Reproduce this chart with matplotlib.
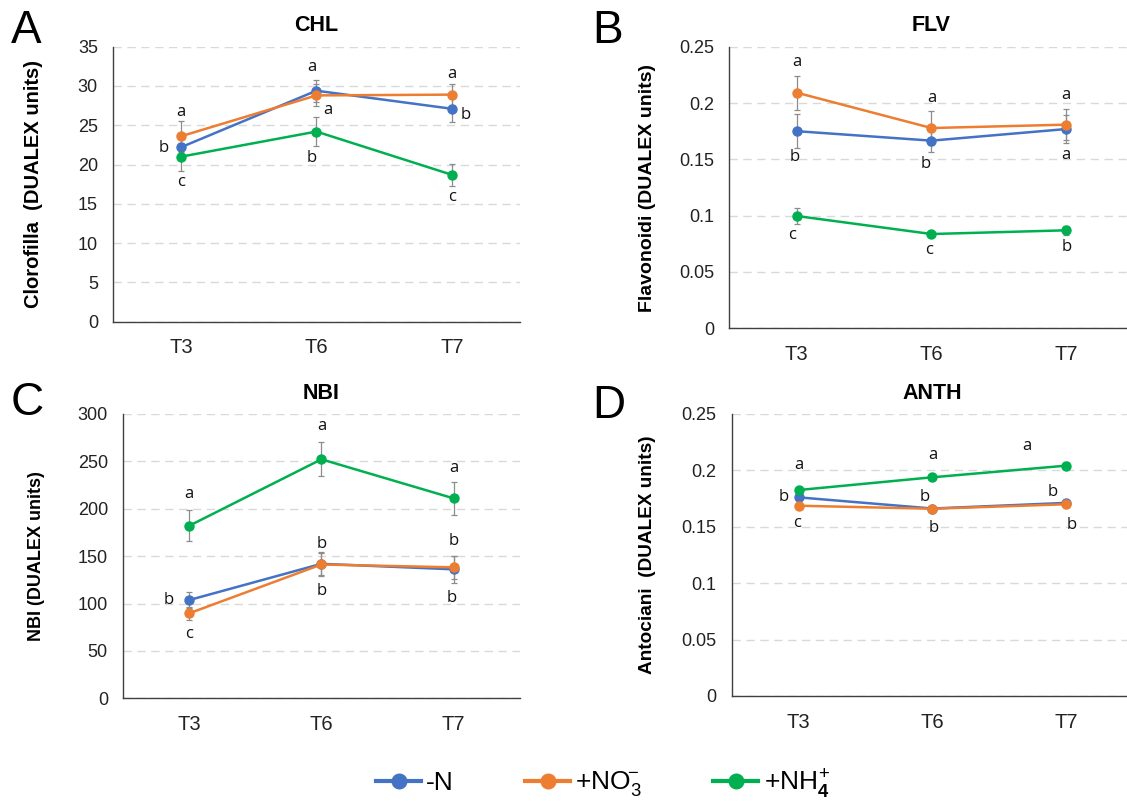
import matplotlib
matplotlib.use("Agg")
import matplotlib.pyplot as plt
from matplotlib.lines import Line2D

plt.rcParams['font.family'] = ['Liberation Sans', 'DejaVu Sans']
plt.rcParams['mathtext.fontset'] = 'custom'
plt.rcParams['mathtext.rm'] = 'Liberation Sans'
plt.rcParams['mathtext.bf'] = 'Liberation Sans:bold'

# ---------------- data ----------------
times = ["T3", "T6", "T7"]
series_names = ["-N", r"+NO$_3^{\!\!-}$", r"+NH$_\mathbf{4}^{\!+}$"]
colors = ["#4472C4", "#ED7D31", "#00B050"]

# CHL
chl_N = [22.2, 29.4, 27.1]
chl_NO3 = [23.6, 28.8, 28.9]
chl_NH4 = [21.0, 24.2, 18.7]
chl_N_err = [1.0, 1.4, 1.65]
chl_NO3_err = [1.95, 1.4, 1.35]
chl_NH4_err = [1.8, 1.8, 1.4]
chl_lab = ["a", "b", "c", "a", "a", "b", "a", "b", "c"]
chl_lab_t = [0, 0, 0, 1, 1, 1, 2, 2, 2]
chl_lab_y = [26.7, 22.1, 17.8, 32.4, 27.0, 20.8, 31.5, 26.3, 15.9]
chl_lab_dx = [0, -17, 0, -5, 11, -5, 0, 14, 0]

# FLV
flv_N = [0.175, 0.1666, 0.1769]
flv_NO3 = [0.2092, 0.1778, 0.1808]
flv_NH4 = [0.0997, 0.0837, 0.0870]
flv_N_err = [0.0153, 0.0098, 0.0127]
flv_NO3_err = [0.015, 0.0154, 0.0136]
flv_NH4_err = [0.0068, 0.002, 0.004]
flv_lab = ["a", "b", "c", "a", "b", "c", "a", "a", "b"]
flv_lab_t = [0, 0, 0, 1, 1, 1, 2, 2, 2]
flv_lab_y = [0.2367, 0.1524, 0.0828, 0.2042, 0.1459, 0.0695, 0.2071, 0.1539, 0.0725]
flv_lab_dx = [0, -2, -5, 0, -6, -2, 0, 0, 0]

# NBI
nbi_N = [103.7, 141.9, 136.1]
nbi_NO3 = [89.7, 141.2, 138.2]
nbi_NH4 = [182.1, 252.2, 211.0]
nbi_N_err = [8.8, 12.0, 14.0]
nbi_NO3_err = [7.0, 12.0, 12.0]
nbi_NH4_err = [16.6, 18.0, 17.5]
nbi_lab = ["a", "b", "c", "a", "b", "b", "a", "b", "b"]
nbi_lab_t = [0, 0, 0, 1, 1, 1, 2, 2, 2]
nbi_lab_y = [215.6, 103.7, 67.8, 287.3, 162.8, 113.5, 243.3, 166.3, 105.5]
nbi_lab_dx = [0, -21, 0, 0, 0, 0, 0, 0, -2]

# ANTH
anth_N = [0.1761, 0.1662, 0.1712]
anth_NO3 = [0.1687, 0.1660, 0.1700]
anth_NH4 = [0.1826, 0.1939, 0.2042]
anth_N_err = [0.002, 0.0015, 0.002]
anth_NO3_err = [0.002, 0.0015, 0.002]
anth_NH4_err = [0.002, 0.002, 0.003]
anth_lab = ["a", "b", "c", "a", "b", "b", "a", "b", "b"]
anth_lab_t = [0, 0, 0, 1, 1, 1, 2, 2, 2]
anth_lab_y = [0.2048, 0.1761, 0.1531, 0.2137, 0.1761, 0.1487, 0.2216, 0.1806, 0.1516]
anth_lab_dx = [0, -15, -2, 0, -8, 1, -39, -13, 6]

panels = [
    dict(letter="A", title="CHL", ylabel="Clorofilla  (DUALEX units)", ylab_fs=14.5,
         vals=[chl_N, chl_NO3, chl_NH4], errs=[chl_N_err, chl_NO3_err, chl_NH4_err],
         ylim=(0, 35), yticks=[0, 5, 10, 15, 20, 25, 30, 35],
         lab=chl_lab, lab_t=chl_lab_t, lab_y=chl_lab_y, lab_dx=chl_lab_dx,
         pos_px=(113.2, 46.7, 519.6, 321.7), ylab_x=43, letter_xy=(11, 9)),
    dict(letter="B", title="FLV", ylabel="Flavonoidi (DUALEX units)", ylab_fs=14,
         vals=[flv_N, flv_NO3, flv_NH4], errs=[flv_N_err, flv_NO3_err, flv_NH4_err],
         ylim=(0, 0.25), yticks=[0, 0.05, 0.1, 0.15, 0.2, 0.25],
         lab=flv_lab, lab_t=flv_lab_t, lab_y=flv_lab_y, lab_dx=flv_lab_dx,
         pos_px=(729.3, 46.7, 1133.6, 328.3), ylab_x=656, letter_xy=(592, 9)),
    dict(letter="C", title="NBI", ylabel="NBI (DUALEX units)", ylab_fs=13,
         vals=[nbi_N, nbi_NO3, nbi_NH4], errs=[nbi_N_err, nbi_NO3_err, nbi_NH4_err],
         ylim=(0, 300), yticks=[0, 50, 100, 150, 200, 250, 300],
         lab=nbi_lab, lab_t=nbi_lab_t, lab_y=nbi_lab_y, lab_dx=nbi_lab_dx,
         pos_px=(123.2, 414, 519.6, 698.3), ylab_x=45, letter_xy=(11, 381)),
    dict(letter="D", title="ANTH", ylabel="Antociani  (DUALEX units)", ylab_fs=13.7,
         vals=[anth_N, anth_NO3, anth_NH4], errs=[anth_N_err, anth_NO3_err, anth_NH4_err],
         ylim=(0, 0.25), yticks=[0, 0.05, 0.1, 0.15, 0.2, 0.25],
         lab=anth_lab, lab_t=anth_lab_t, lab_y=anth_lab_y, lab_dx=anth_lab_dx,
         pos_px=(731.8, 414, 1133, 696), ylab_x=656, letter_xy=(592, 384)),
]

W, H = 1127, 808
fig = plt.figure(figsize=(W / 100, H / 100), dpi=100)

x = list(range(len(times)))
for p in panels:
    l, t, r, b = p["pos_px"]
    ax = fig.add_axes([l / W, 1 - b / H, (r - l) / W, (b - t) / H])
    for vals, errs, c in zip(p["vals"], p["errs"], colors):
        ax.errorbar(x, vals, yerr=errs, color=c, lw=1.8, marker="o", ms=6.5,
                    ecolor="#8C8C8C", elinewidth=0.9, capsize=2, capthick=0.9,
                    zorder=3)
    ax.set_xlim(-0.5, 2.5)
    ax.set_ylim(*p["ylim"])
    ax.set_yticks(p["yticks"])
    ax.set_yticklabels([f"{v:g}" for v in p["yticks"]])
    ax.set_xticks(x)
    ax.set_xticklabels(times)
    ax.tick_params(axis="both", length=0, colors="#222222")
    ax.tick_params(axis="y", pad=11, labelsize=13)
    ax.tick_params(axis="x", pad=12, labelsize=14.5)
    ax.yaxis.grid(True, linestyle=(0, (6, 4)), color="#D9D9D9", lw=1.0)
    ax.set_axisbelow(True)
    for s in ["top", "right"]:
        ax.spines[s].set_visible(False)
    for s in ["left", "bottom"]:
        ax.spines[s].set_color("#404040")
        ax.spines[s].set_linewidth(1.0)
    ax.set_title(p["title"], fontsize=15.5, fontweight="bold", pad=11)
    ax.set_ylabel(p["ylabel"], fontsize=p["ylab_fs"], fontweight="bold")
    ax.yaxis.set_label_coords((p["ylab_x"] - l) / (r - l), 0.5)
    for txt, ti, yv, dx in zip(p["lab"], p["lab_t"], p["lab_y"], p["lab_dx"]):
        ax.annotate(txt, (ti, yv), xytext=(dx * 0.72, 0), textcoords="offset points",
                    ha="center", va="center", fontsize=12,
                    family=["Open Sans", "DejaVu Sans"], color="#111111")
    lx, ly = p["letter_xy"]
    fig.text(lx / W, 1 - ly / H, p["letter"], fontsize=33, va="top", ha="left")

handles = [Line2D([0], [0], color=c, lw=3.0, marker="o", ms=10.5) for c in colors]
fig.legend(handles, series_names, loc="center", bbox_to_anchor=(603 / W, 1 - 783 / H),
           ncol=3, frameon=False, fontsize=19, handlelength=1.7, handletextpad=0.2,
           columnspacing=2.7)

fig.savefig("out.png", dpi=100)
